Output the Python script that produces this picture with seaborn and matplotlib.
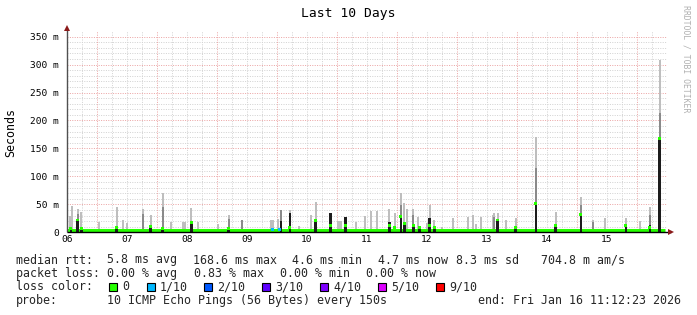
import numpy as np
import pandas as pd
import matplotlib
matplotlib.use("Agg")
import matplotlib.pyplot as plt
from matplotlib.patches import Rectangle
import seaborn as sns

# ------------------------------------------------------------------ data
title = "Last 10 Days"
y_axis_label = "Seconds"
watermark = "RRDTOOL / TOBI OETIKER"

# time axis: day of month (January 2026); labels sit at noon of each day
x_start, x_end = 6.5, 16.5
data_end = 16.467
day_ticks = [6.5, 7.5, 8.5, 9.5, 10.5, 11.5, 12.5, 13.5, 14.5, 15.5]
day_labels = ["06", "07", "08", "09", "10", "11", "12", "13", "14", "15"]

y_max_ms = 360
y_ticks_ms = [0, 50, 100, 150, 200, 250, 300, 350]
y_tick_labels = ["0", "50 m", "100 m", "150 m", "200 m", "250 m", "300 m", "350 m"]

baseline_median_ms = 4.7
baseline_min_ms = 3.5

nan = np.nan
spike_day = [6.55, 6.57, 6.58, 6.68, 6.73, 6.75, 7.03, 7.33, 7.43, 7.50,
             7.77, 7.90, 8.10, 8.23, 8.43, 8.47, 8.58, 8.68, 9.02, 9.20,
             9.42, 9.90, 9.93, 10.02, 10.07, 10.22, 10.37, 10.57, 10.65, 10.90,
             11.02, 11.05, 11.08, 11.15, 11.33, 11.47, 11.57, 11.67, 11.88, 11.97,
             12.07, 12.13, 12.17, 12.28, 12.35, 12.38, 12.50, 12.55, 12.63, 12.75,
             12.93, 13.18, 13.27, 13.33, 13.40, 13.60, 13.63, 13.68, 13.83, 13.98,
             14.32, 14.65, 15.07, 15.27, 15.47, 15.82, 16.05, 16.22, 16.38]
smoke_max_ms = [29, 12, 47, 42, 37, 8, 19, 46, 22, 17,
                42, 31, 71, 19, 19, 19, 44, 19, 15, 31,
                22, 22, 22, 24, 40, 40, 12, 31, 54, 35,
                21, 21, 21, 28, 19, 29, 38, 38, 42, 35,
                71, 53, 42, 42, 28, 8, 17, 49, 22, 10,
                26, 28, 31, 15, 28, 31, 35, 35, 22, 26,
                171, 37, 63, 22, 26, 26, 21, 46, 308]
smoke_mid_ms = [nan, nan, nan, 33, nan, nan, nan, nan, nan, nan,
                33, nan, 45, nan, nan, nan, nan, nan, nan, 24,
                22, nan, nan, nan, 40, nan, nan, nan, nan, nan,
                nan, nan, nan, nan, nan, nan, nan, nan, nan, nan,
                49, nan, nan, 31, nan, nan, nan, nan, nan, nan,
                nan, nan, nan, nan, nan, nan, 27, nan, nan, nan,
                115, nan, 49, 18, nan, nan, nan, 31, 213]
smoke_core_ms = [nan, 10, nan, 24, nan, 8, nan, 8, nan, nan,
                 nan, 12, 8, nan, nan, nan, 17, nan, nan, 8,
                 nan, nan, nan, nan, 20, 35, nan, nan, 21, 35,
                 nan, nan, nan, 28, nan, nan, nan, nan, 19, nan,
                 31, 17, nan, 12, nan, 8, nan, 26, 12, nan,
                 nan, nan, nan, nan, nan, nan, nan, 22, nan, 8,
                 53, 13, 35, nan, nan, 12, nan, 13, 170]
spike_median_ms = [nan, 6, nan, 22, nan, 6, nan, 8, nan, nan,
                   nan, 10, 6, nan, nan, nan, 17, nan, nan, 6,
                   nan, nan, nan, nan, nan, 8, nan, nan, 21, 12,
                   nan, nan, nan, 12, nan, nan, nan, nan, 12, 8,
                   29, 15, nan, 12, nan, 8, nan, 13, 8, nan,
                   nan, nan, nan, nan, nan, nan, nan, 22, nan, 8,
                   52, 12, 31, nan, nan, 12, nan, 8, 168.6]

loss_day = [9.93, 10.05]
loss_median_ms = [4.7, 4.7]

loss_names = ["0", "1/10", "2/10", "3/10", "4/10", "5/10", "9/10"]
loss_colors = ["#26ff00", "#00b8ff", "#0059ff", "#5e00ff", "#7e00ff", "#dd00ff", "#ff0000"]

median_stats = ["5.8 ms avg", "168.6 ms max", "4.6 ms min", "4.7 ms now",
                "8.3 ms sd", "704.8 m am/s"]
loss_stats = ["0.00 % avg", "0.83 % max", "0.00 % min", "0.00 % now"]
probe_text = "10 ICMP Echo Pings (56 Bytes) every 150s"
end_text = "end: Fri Jan 16 11:12:23 2026"

# ------------------------------------------------------------------ style
sns.set_theme(style="white")
plt.rcParams["font.family"] = ["DejaVu Sans Mono", "DejaVu Sans"]

W, H = 697, 315
fig = plt.figure(figsize=(W / 100, H / 100), dpi=100)
fig.patch.set_facecolor("white")


def fx(px):
    return px / W


def fy(py):
    return 1 - py / H


ZERO_Y, TOP_Y, LEFT_X, RIGHT_X = 232.3, 31.0, 66.7, 666.7
ax = fig.add_axes([fx(LEFT_X), fy(ZERO_Y), (RIGHT_X - LEFT_X) / W, (ZERO_Y - TOP_Y) / H])
ax.set_facecolor("white")
ax.set_xlim(x_start, x_end)
ax.set_ylim(0, y_max_ms)
for s in ax.spines.values():
    s.set_visible(False)

# grid
dot = (0, (1, 1.4))
minor_c, major_c = "#d3d3d3", "#eca6a6"
for v in range(10, y_max_ms, 10):
    if v % 50:
        ax.axhline(v, color=minor_c, lw=0.72, ls=dot, zorder=0)
for v in range(50, y_max_ms, 50):
    ax.axhline(v, color=major_c, lw=0.72, ls=dot, zorder=0.1)
q = x_start + 0.25
while q < x_end - 1e-6:
    if abs(q - round(q)) > 1e-6:
        ax.axvline(q, color=minor_c, lw=0.72, ls=dot, zorder=0)
    q += 0.25
for d in range(int(np.ceil(x_start)), int(x_end) + 1):
    ax.axvline(d, color=major_c, lw=0.72, ls=dot, zorder=0.1)

# smoke
df = pd.DataFrame({"day": spike_day, "max": smoke_max_ms, "mid": smoke_mid_ms,
                   "core": smoke_core_ms, "median": spike_median_ms})
px_day = 1.0 / 60.0
bw = 2.0 * px_day
ax.bar(df["day"], df["max"] - baseline_min_ms, bottom=baseline_min_ms, width=bw,
       color="#bebebe", linewidth=0, zorder=1)
m = df.dropna(subset=["mid"])
ax.bar(m["day"], m["mid"] - baseline_min_ms, bottom=baseline_min_ms, width=bw,
       color="#8a8a8a", linewidth=0, zorder=1.5)

# median baseline band (3 px thick)
band_ms = 3.0 / 0.56
ax.hlines(baseline_median_ms, x_start, data_end, color=loss_colors[0], lw=2.2, zorder=2)

c = df.dropna(subset=["core"])
ax.bar(c["day"], c["core"], bottom=0, width=2.6 * px_day, color="#1c1c1c",
       linewidth=0, zorder=3)

# median marks at spikes: short band of the loss colour centred on the median
md = df.dropna(subset=["median"])
ax.bar(md["day"], band_ms, bottom=md["median"] - band_ms / 2, width=3.0 * px_day,
       color=loss_colors[0], linewidth=0, zorder=4)
ax.bar(loss_day, band_ms, bottom=np.array(loss_median_ms) - band_ms / 2, width=3.0 * px_day,
       color=loss_colors[1], linewidth=0, zorder=4)

# axes lines with arrows
ax.plot([x_start, x_start], [0, 364], color="#505050", lw=1.0, clip_on=False, zorder=5,
        solid_capstyle="butt")
ax.plot([x_start], [366], marker="^", ms=4.2, color="#8b1a1a", clip_on=False, zorder=6,
        markeredgewidth=0)
ax.plot([x_start, x_end + 0.07], [0, 0], color="#000000", lw=1.0, clip_on=False, zorder=5,
        solid_capstyle="butt")
ax.plot([x_end + 0.075], [0], marker=">", ms=4.2, color="#8b1a1a", clip_on=False, zorder=6,
        markeredgewidth=0)

ax.set_xticks(day_ticks, day_labels)
ax.set_yticks(y_ticks_ms, y_tick_labels)
ax.tick_params(axis="x", length=0, pad=1.7, labelsize=6.8, colors="#000000")
ax.tick_params(axis="y", length=0, pad=5.6, labelsize=6.8, colors="#000000")
ax.set_xlabel("")
ax.set_ylabel("")

# titles
fig.text(fx(348), fy(14), title, ha="center", va="center", fontsize=9.4, color="#000000")
fig.text(fx(11), fy(132), y_axis_label, ha="center", va="center", rotation=90,
         fontsize=8.4, color="#000000")
fig.text(fx(686), fy(59), watermark, ha="center", va="center", rotation=-90,
         fontsize=5.9, color="#b0b0b0")

# legend
fs = 8.4
row_y = [260, 273.5, 287, 300.5]
fig.text(fx(16), fy(row_y[0]), "median rtt:", ha="left", va="center", fontsize=fs)
for xp, t in zip([107, 193, 292, 378, 456, 541], median_stats):
    fig.text(fx(xp), fy(row_y[0]), t, ha="left", va="center", fontsize=fs)
fig.text(fx(16), fy(row_y[1]), "packet loss:", ha="left", va="center", fontsize=fs)
for xp, t in zip([107, 194, 280, 366], loss_stats):
    fig.text(fx(xp), fy(row_y[1]), t, ha="left", va="center", fontsize=fs)
fig.text(fx(16), fy(row_y[2]), "loss color:", ha="left", va="center", fontsize=fs)
for xp, name, col in zip([109, 147, 204, 262, 320, 378, 436], loss_names, loss_colors):
    fig.patches.append(Rectangle((fx(xp), fy(row_y[2] + 4)), 8 / W, 8 / H,
                                 transform=fig.transFigure, facecolor=col,
                                 edgecolor="#000000", linewidth=0.8))
    fig.text(fx(xp + 13), fy(row_y[2]), name, ha="left", va="center", fontsize=fs)
fig.text(fx(16), fy(row_y[3]), "probe:", ha="left", va="center", fontsize=fs)
fig.text(fx(107), fy(row_y[3]), probe_text, ha="left", va="center", fontsize=fs)
fig.text(fx(478), fy(row_y[3]), end_text, ha="left", va="center", fontsize=fs)

fig.savefig("out.png", dpi=100, facecolor="white")
